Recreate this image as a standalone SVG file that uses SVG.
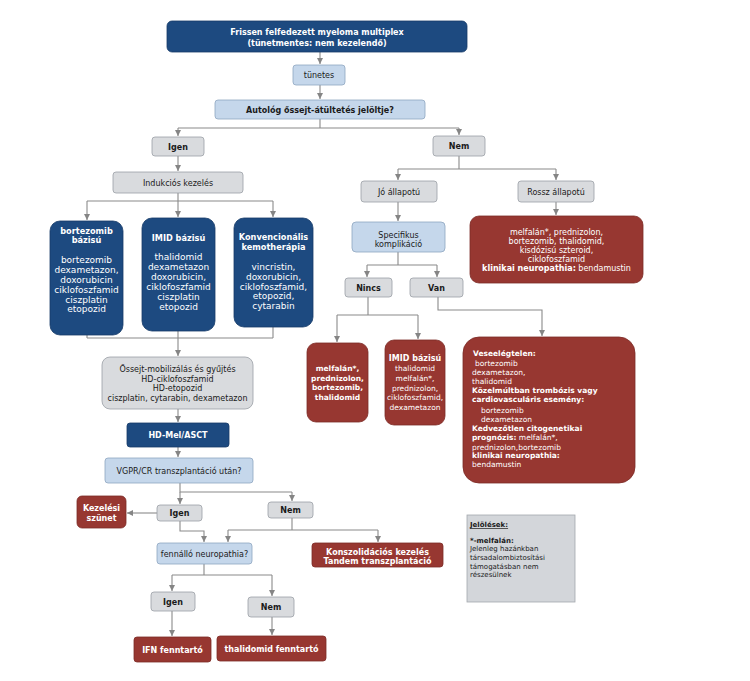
<svg xmlns="http://www.w3.org/2000/svg" width="750" height="681" viewBox="0 0 750 681">
<defs>
<marker id="ah" markerUnits="userSpaceOnUse" markerWidth="7" markerHeight="7" refX="6" refY="3.5" orient="auto">
<path d="M0,0.5 L6,3.5 L0,6.5 z" fill="#858585"/>
</marker>
<style>
text{font-family:"DejaVu Sans",Verdana,sans-serif;font-size:8px;text-anchor:middle;fill:#1a1a1a}
.b{font-weight:bold}
.w{fill:#ffffff}
.gray{fill:#d9dbde;stroke:#9aa0a6;stroke-width:0.8}
.lb{fill:#c5d7eb;stroke:#8ea6c0;stroke-width:0.8}
.db{fill:#1d4a80;stroke:#163b68;stroke-width:0.8}
.red{fill:#973731;stroke:#7c2b26;stroke-width:0.8}
.c{fill:none;stroke:#8a8a8a;stroke-width:1.1}
.a{marker-end:url(#ah)}
.l{text-anchor:start}
.s{font-size:7.5px}
.xs{font-size:7px}
.r{font-size:7.5px}
.m{font-size:9px}
.t{font-size:8.2px}
</style>
</defs>
<rect width="750" height="681" fill="#ffffff"/>

<g id="connectors">
<path class="c a" d="M320,52 V64"/>
<path class="c a" d="M320,85 V99"/>
<path class="c" d="M320,119 V128 M178,128 H459"/>
<path class="c a" d="M178,128 V136"/>
<path class="c a" d="M459,128 V135"/>
<path class="c a" d="M178,156 V171"/>
<path class="c" d="M178,193 V201 M87,201 H273"/>
<path class="c a" d="M87,201 V220"/>
<path class="c a" d="M178,201 V217"/>
<path class="c a" d="M273,201 V217"/>
<path class="c" d="M87,335 V338 M178,331 V338 M273,327 V338 M87,338 H273"/>
<path class="c a" d="M178,338 V356"/>
<path class="c a" d="M178,409 V422"/>
<path class="c a" d="M178,447 V457"/>
<path class="c" d="M180,483 V492 H292"/>
<path class="c a" d="M180,492 V504"/>
<path class="c a" d="M292,492 V501"/>
<path class="c a" d="M157,513 H127"/>
<path class="c a" d="M180,521 V531 H204 V542"/>
<path class="c" d="M292,518 V530 M228,530 H378"/>
<path class="c a" d="M228,530 V542"/>
<path class="c a" d="M378,530 V542"/>
<path class="c" d="M204,564 V575 M172,575 H272"/>
<path class="c a" d="M172,575 V591"/>
<path class="c a" d="M272,575 V596"/>
<path class="c a" d="M172,611 V636"/>
<path class="c a" d="M272,617 V635"/>
<path class="c" d="M459,156 V169 M398,169 H556"/>
<path class="c a" d="M398,169 V180"/>
<path class="c a" d="M556,169 V180"/>
<path class="c a" d="M398,202 V221"/>
<path class="c a" d="M556,202 V215"/>
<path class="c" d="M398,252 V265 M367,265 H437"/>
<path class="c a" d="M367,265 V277"/>
<path class="c a" d="M437,265 V277"/>
<path class="c" d="M368,297 V315 M337,315 H418"/>
<path class="c a" d="M337,315 V342"/>
<path class="c a" d="M418,315 V339"/>
<path class="c a" d="M438,297 V310 H542 V336"/>
</g>

<g id="n-top">
<rect class="db" x="167" y="21" width="300" height="31" rx="5"/>
<text class="b w" x="317" y="35">Frissen felfedezett myeloma multiplex</text>
<text class="b w" x="317" y="46">(tünetmentes: nem kezelendő)</text>
</g>
<g id="n-tunetes">
<rect class="lb" x="293" y="65" width="52" height="20" rx="3"/>
<text x="319" y="78">tünetes</text>
</g>
<g id="n-autolog">
<rect class="lb" x="215" y="100" width="210" height="19" rx="3"/>
<text class="b" x="320" y="112.5">Autológ őssejt-átültetés jelöltje?</text>
</g>
<g id="n-igen1">
<rect class="gray" x="152" y="137" width="52" height="19" rx="3"/>
<text class="b" x="178" y="149.5">Igen</text>
</g>
<g id="n-nem1">
<rect class="gray" x="433" y="136" width="52" height="20" rx="3"/>
<text class="b" x="459" y="149">Nem</text>
</g>
<g id="n-indukcios">
<rect class="gray" x="113" y="172" width="130" height="21" rx="3"/>
<text x="178" y="185.5">Indukciós kezelés</text>
</g>
<g id="n-bortezomib">
<rect class="db" x="50" y="221" width="73" height="114" rx="10"/>
<text class="b w t" x="86.5" y="234">bortezomib</text>
<text class="b w t" x="86.5" y="243">bázisú</text>
<text class="w m" x="86.5" y="263">bortezomib</text>
<text class="w m" x="86.5" y="273">dexametazon,</text>
<text class="w m" x="86.5" y="283">doxorubicin</text>
<text class="w m" x="86.5" y="293">ciklofoszfamid</text>
<text class="w m" x="86.5" y="303">ciszplatin</text>
<text class="w m" x="86.5" y="312">etopozid</text>
</g>
<g id="n-imid">
<rect class="db" x="142" y="218" width="73" height="113" rx="10"/>
<text class="b w t" x="178.5" y="241">IMID bázisú</text>
<text class="w m" x="178.5" y="260">thalidomid</text>
<text class="w m" x="178.5" y="270">dexametazon</text>
<text class="w m" x="178.5" y="280">doxorubicin,</text>
<text class="w m" x="178.5" y="290">ciklofoszfamid</text>
<text class="w m" x="178.5" y="300">ciszplatin</text>
<text class="w m" x="178.5" y="310">etopozid</text>
</g>
<g id="n-konv">
<rect class="db" x="234" y="218" width="79" height="109" rx="10"/>
<text class="b w t" x="273.5" y="240">Konvencionális</text>
<text class="b w t" x="273.5" y="250">kemotherápia</text>
<text class="w m" x="273.5" y="270">vincristin,</text>
<text class="w m" x="273.5" y="280">doxorubicin,</text>
<text class="w m" x="273.5" y="290">ciklofoszfamid,</text>
<text class="w m" x="273.5" y="299">etopozid,</text>
<text class="w m" x="273.5" y="309">cytarabin</text>
</g>
<g id="n-ossejt">
<rect class="gray" x="102" y="357" width="151" height="52" rx="8"/>
<text x="177.5" y="372">Őssejt-mobilizálás és gyűjtés</text>
<text x="177.5" y="382">HD-ciklofoszfamid</text>
<text x="177.5" y="391">HD-etopozid</text>
<text x="177.5" y="401">ciszplatin, cytarabin, dexametazon</text>
</g>
<g id="n-hdmel">
<rect class="db" x="127" y="423" width="102" height="24" rx="3"/>
<text class="b w" x="178" y="438">HD-Mel/ASCT</text>
</g>
<g id="n-vgpr">
<rect class="lb" x="105" y="458" width="148" height="25" rx="3"/>
<text x="179" y="474">VGPR/CR transzplantáció után?</text>
</g>
<g id="n-igen2">
<rect class="gray" x="157" y="505" width="45" height="16" rx="3"/>
<text class="b" x="179.5" y="516">Igen</text>
</g>
<g id="n-nem2">
<rect class="gray" x="268" y="502" width="45" height="16" rx="3"/>
<text class="b" x="290.5" y="513">Nem</text>
</g>
<g id="n-kezelesi">
<rect class="red" x="77" y="496" width="49" height="32" rx="5"/>
<text class="b w" x="101.5" y="510.5">Kezelési</text>
<text class="b w" x="101.5" y="520.5">szünet</text>
</g>
<g id="n-fennallo">
<rect class="lb" x="157" y="543" width="95" height="21" rx="3"/>
<text x="204.5" y="557">fennálló neuropathia?</text>
</g>
<g id="n-konszolidacios">
<rect class="red" x="312" y="543" width="131" height="24" rx="3"/>
<text class="b w" x="377.5" y="554.5">Konszolidációs kezelés</text>
<text class="b w" x="377.5" y="563.5">Tandem transzplantáció</text>
</g>
<g id="n-igen3">
<rect class="gray" x="151" y="592" width="44" height="19" rx="3"/>
<text class="b" x="173" y="604.5">Igen</text>
</g>
<g id="n-nem3">
<rect class="gray" x="248" y="597" width="46" height="20" rx="3"/>
<text class="b" x="271" y="610">Nem</text>
</g>
<g id="n-ifn">
<rect class="red" x="134" y="637" width="77" height="25" rx="3"/>
<text class="b w" x="172.5" y="652.5">IFN fenntartó</text>
</g>
<g id="n-thalfenn">
<rect class="red" x="217" y="636" width="109" height="25" rx="3"/>
<text class="b w" x="271.5" y="651.5">thalidomid fenntartó</text>
</g>
<g id="n-jo">
<rect class="gray" x="361" y="181" width="76" height="21" rx="3"/>
<text x="399" y="194.5">Jó állapotú</text>
</g>
<g id="n-rossz">
<rect class="gray" x="518" y="181" width="76" height="21" rx="3"/>
<text x="556" y="194.5">Rossz állapotú</text>
</g>
<g id="n-rossz-ther">
<rect class="red" x="470" y="216" width="173" height="67" rx="9"/>
<text class="w" x="556.5" y="235">melfalán*, prednizolon,</text>
<text class="w" x="556.5" y="244">bortezomib, thalidomid,</text>
<text class="w" x="556.5" y="253">kisdózisú szteroid,</text>
<text class="w" x="556.5" y="262">ciklofoszfamid</text>
<text class="w" x="556.5" y="271"><tspan class="b">klinikai neuropathia:</tspan> bendamustin</text>
</g>
<g id="n-specifikus">
<rect class="lb" x="352" y="222" width="93" height="30" rx="4"/>
<text x="398.5" y="238">Specifikus</text>
<text x="398.5" y="247">komplikáció</text>
</g>
<g id="n-nincs">
<rect class="gray" x="345" y="278" width="47" height="19" rx="3"/>
<text class="b" x="368.5" y="290.5">Nincs</text>
</g>
<g id="n-van">
<rect class="gray" x="410" y="278" width="53" height="19" rx="3"/>
<text class="b" x="436.5" y="290.5">Van</text>
</g>
<g id="n-nincs-ther">
<rect class="red" x="307" y="343" width="61" height="79" rx="9"/>
<text class="b w r" x="337.5" y="371">melfalán*,</text>
<text class="b w r" x="337.5" y="381">prednizolon,</text>
<text class="b w r" x="337.5" y="390">bortezomib,</text>
<text class="b w r" x="337.5" y="400">thalidomid</text>
</g>
<g id="n-imid2">
<rect class="red" x="385" y="340" width="60" height="85" rx="9"/>
<text class="b w" x="415" y="361">IMID bázisú</text>
<text class="w r" x="415" y="371">thalidomid</text>
<text class="w r" x="415" y="381">melfalán*,</text>
<text class="w r" x="415" y="391">prednizolon,</text>
<text class="w r" x="415" y="400">ciklofoszfamid,</text>
<text class="w r" x="415" y="410">dexametazon</text>
</g>
<g id="n-vese">
<rect class="red" x="463" y="337" width="172" height="146" rx="16"/>
<text class="b w l s" x="473" y="356">Veseelégtelen:</text>
<text class="w l s" x="475" y="366">bortezomib</text>
<text class="w l s" x="472" y="375">dexametazon,</text>
<text class="w l s" x="472" y="384">thalidomid</text>
<text class="b w l s" x="472" y="393">Közelmúltban trombózis vagy</text>
<text class="b w l s" x="472" y="402">cardiovasculáris esemény:</text>
<text class="w l s" x="481" y="413">bortezomib</text>
<text class="w l s" x="481" y="422">dexametazon</text>
<text class="b w l s" x="472" y="431">Kedvezőtlen citogenetikai</text>
<text class="w l s" x="472" y="440"><tspan class="b">prognózis:</tspan> melfalán*,</text>
<text class="w l s" x="472" y="450">prednizolon,bortezomib</text>
<text class="b w l s" x="472" y="458">klinikai neuropathia:</text>
<text class="w l s" x="472" y="467">bendamustin</text>
</g>
<g id="n-jelolesek">
<rect x="467" y="515" width="108" height="87" fill="#d3d6da" stroke="#a4a8ad" stroke-width="0.8"/>
<text class="b l xs" x="470" y="527" text-decoration="underline">Jelölések:</text>
<text class="b l xs" x="470" y="543">*-melfalán:</text>
<text class="l xs" x="470" y="551">Jelenleg hazánkban</text>
<text class="l xs" x="470" y="560">társadalombiztosítási</text>
<text class="l xs" x="470" y="569">támogatásban nem</text>
<text class="l xs" x="470" y="577">részesülnek</text>
</g>
</svg>
